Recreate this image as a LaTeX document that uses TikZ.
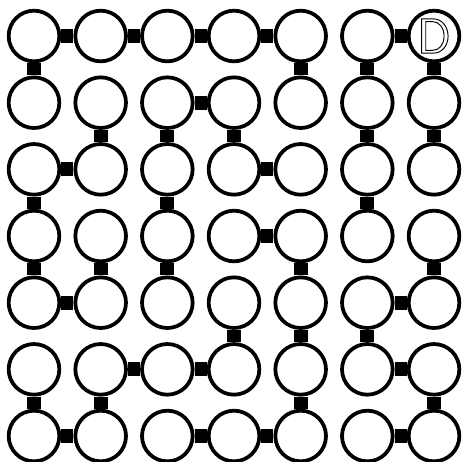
\documentclass[tikz,border=0pt]{standalone}
\tikzset{
  site/.style={circle, draw, line width=1.6pt, fill=white, minimum size=0.76cm, inner sep=0pt},
  link/.style={line width=6pt}
}
\newcommand{\hollow}[1]{\special{pdf:literal direct 1 Tr 0.4 w}#1\special{pdf:literal direct 0 Tr}}
\begin{document}
\begin{tikzpicture}
\useasboundingbox (0.49,-0.46) rectangle (7.42,-7.375);
% Sites
\foreach \r in {1,...,7}
  \foreach \c in {1,...,7}
    \node[site] (n\r\c) at (\c,-\r) {};
\node[font=\fontsize{21}{21}\selectfont\sffamily, inner sep=0pt] (dlabel) at (n17) {\hollow{D}};
% Bonds, row by row
\draw[link] (n11) -- (n12) (n12) -- (n13) (n13) -- (n14) (n14) -- (n15) (n16) -- (n17);
\draw[link] (n11) -- (n21) (n15) -- (n25) (n16) -- (n26) (n17) -- (n27);
\draw[link] (n23) -- (n24);
\draw[link] (n22) -- (n32) (n23) -- (n33) (n24) -- (n34) (n26) -- (n36) (n27) -- (n37);
\draw[link] (n31) -- (n32) (n34) -- (n35);
\draw[link] (n31) -- (n41) (n33) -- (n43) (n36) -- (n46);
\draw[link] (n44) -- (n45);
\draw[link] (n41) -- (n51) (n42) -- (n52) (n43) -- (n53) (n45) -- (n55) (n47) -- (n57);
\draw[link] (n51) -- (n52) (n56) -- (n57);
\draw[link] (n54) -- (n64) (n55) -- (n65) (n56) -- (n66);
\draw[link] (n62) -- (n63) (n63) -- (n64) (n66) -- (n67);
\draw[link] (n61) -- (n71) (n62) -- (n72) (n65) -- (n75) (n67) -- (n77);
\draw[link] (n71) -- (n72) (n73) -- (n74) (n74) -- (n75) (n76) -- (n77);
\end{tikzpicture}
\end{document}
